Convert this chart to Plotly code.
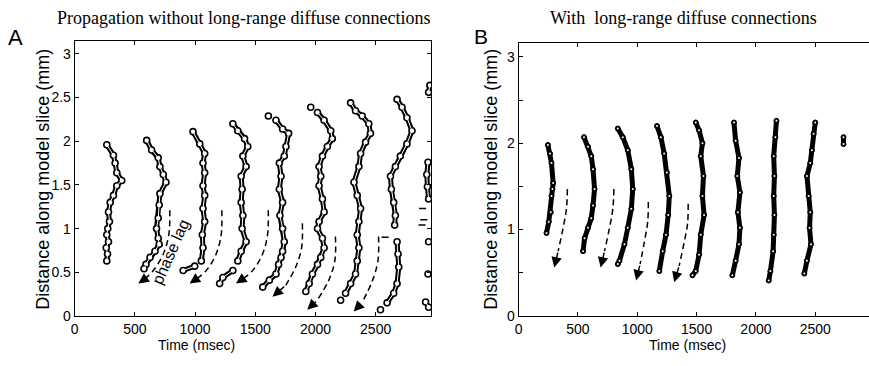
import plotly.graph_objects as go

# ---------------- data ----------------
# Panel A: wave fronts, time (msec) and distance (mm); None = gap
A_TIME = [
    [267, 322, 336, 350, 391, 350, 322, 295, 281, 289, 275, 267, 281, 262, 273, 267],
    [598, 639, 694, 708, 736, 758, 708, 702, 694, 680, 694, 702, 667, 626, 592, 576],
    [983, 1039, 1080, 1066, 1080, 1066, 1080, 1066, 1080, 1060, 1066, 1052, None, 997, 901],
    [1314, 1355, 1411, 1438, 1397, 1424, 1383, 1391, 1383, 1397, 1391, 1424, 1383, 1355, None, 1314, 1231, 1204],
    [1609, None, 1672, 1727, 1777, 1755, 1741, 1700, 1714, 1700, 1727, 1705, 1727, 1741, 1727, 1714, 1694, 1672, 1617, 1562],
    [1961, None, 2017, 2072, 2127, 2140, 2099, 2058, 2030, 2044, 2030, 2058, 2072, 2030, 2017, 2058, 2072, 2044, 2017, 1975, 1948, 1920],
    [2292, 2333, 2388, 2443, 2457, 2416, 2375, 2361, 2320, 2347, 2375, 2361, 2347, 2361, 2347, 2333, 2292, 2250, None, 2209],
    [2678, 2719, 2760, 2802, 2760, 2705, 2664, 2623, 2631, 2650, 2664, 2658, None, 2678, 2686, 2692, 2678, 2650, 2595, None, 2540],
    [2950, 2940, None, 2935, 2925, 2930, 2940, None, 2940, None, 2935, None, 2915, 2940],
]
A_DIST = [
    [1.96, 1.84, 1.75, 1.64, 1.55, 1.49, 1.38, 1.30, 1.19, 1.08, 1.00, 0.93, 0.85, 0.78, 0.71, 0.63],
    [2.01, 1.90, 1.81, 1.71, 1.62, 1.53, 1.40, 1.27, 1.12, 1.00, 0.89, 0.82, 0.74, 0.67, 0.59, 0.54],
    [2.11, 1.97, 1.86, 1.75, 1.64, 1.49, 1.38, 1.23, 1.08, 0.93, 0.78, 0.63, None, 0.57, 0.52],
    [2.20, 2.12, 2.03, 1.94, 1.83, 1.71, 1.60, 1.45, 1.30, 1.15, 1.00, 0.85, 0.74, 0.63, None, 0.52, 0.44, 0.37],
    [2.29, None, 2.24, 2.14, 2.09, 1.94, 1.83, 1.75, 1.60, 1.45, 1.30, 1.15, 1.00, 0.85, 0.74, 0.67, 0.59, 0.48, 0.41, 0.33],
    [2.39, None, 2.33, 2.24, 2.12, 2.03, 1.94, 1.83, 1.71, 1.60, 1.49, 1.34, 1.19, 1.08, 1.00, 0.89, 0.78, 0.67, 0.59, 0.48, 0.37, 0.28],
    [2.44, 2.35, 2.29, 2.20, 2.09, 1.99, 1.86, 1.71, 1.53, 1.38, 1.23, 1.08, 0.93, 0.78, 0.63, 0.48, 0.37, 0.26, None, 0.18],
    [2.48, 2.39, 2.27, 2.12, 1.97, 1.83, 1.71, 1.60, 1.45, 1.30, 1.15, 1.04, None, 0.85, 0.71, 0.56, 0.37, 0.26, 0.15, None, 0.07],
    [2.64, 2.56, None, 1.76, 1.62, 1.48, 1.34, None, 0.85, None, 0.48, None, 0.16, 0.10],
]
A_SPECK_T = [2579, 2890, 2900, 2885]
A_SPECK_D = [0.90, 1.23, 1.10, 1.04]

# Panel A: dashed "phase lag" arrows (last point = arrow head)
A_ARROW_T = [
    [790, 782, 736, 653, 570, 529],
    [1222, 1217, 1175, 1093, 997, 955],
    [1608, 1602, 1561, 1478, 1382, 1340],
    [1891, 1885, 1836, 1753, 1643],
    [2166, 2161, 2111, 2015, 1932],
    [2524, 2519, 2469, 2386, 2318],
]
A_ARROW_D = [
    [1.21, 0.93, 0.71, 0.52, 0.41, 0.37],
    [1.21, 0.93, 0.71, 0.52, 0.41, 0.37],
    [1.21, 0.93, 0.71, 0.52, 0.41, 0.37],
    [1.06, 0.78, 0.56, 0.35, 0.22],
    [0.91, 0.63, 0.41, 0.18, 0.07],
    [0.91, 0.63, 0.39, 0.15, 0.05],
]

# Panel B: wave fronts
B_TIME = [
    [247, 265, 277, 291, 285, 277, 271, 254, 235],
    [551, 585, 612, 627, 640, 627, 612, 585, 556, 543],
    [836, 878, 920, 950, 962, 950, 920, 892, 850, 836],
    [1166, 1199, 1227, 1250, 1270, 1261, 1242, 1214, 1186],
    [1493, 1521, 1549, 1535, 1558, 1549, 1563, 1535, 1521, 1493, 1465],
    [1815, 1829, 1857, 1843, 1865, 1848, 1865, 1857, 1829, 1801],
    [2173, 2164, 2150, 2156, 2150, 2156, 2150, 2145, 2122, 2108],
    [2500, 2486, 2472, 2458, 2430, 2444, 2458, 2452, 2464, 2430, 2408],
    [2738, 2738],
]
B_DIST = [
    [1.98, 1.88, 1.77, 1.54, 1.47, 1.39, 1.20, 1.09, 0.96],
    [2.07, 1.96, 1.85, 1.70, 1.47, 1.28, 1.13, 1.02, 0.90, 0.75],
    [2.17, 2.07, 1.92, 1.70, 1.47, 1.24, 1.02, 0.83, 0.64, 0.60],
    [2.20, 2.07, 1.88, 1.66, 1.39, 1.17, 0.94, 0.75, 0.52],
    [2.24, 2.15, 2.00, 1.85, 1.62, 1.39, 1.17, 0.94, 0.71, 0.52, 0.47],
    [2.24, 2.03, 1.83, 1.62, 1.43, 1.20, 1.02, 0.83, 0.64, 0.47],
    [2.26, 2.07, 1.85, 1.62, 1.39, 1.17, 0.94, 0.75, 0.52, 0.41],
    [2.24, 2.11, 1.92, 1.77, 1.62, 1.39, 1.20, 1.02, 0.83, 0.64, 0.49],
    [1.99, 2.07],
]
B_ARROW_T = [
    [411, 403, 375, 333, 300],
    [803, 794, 766, 724, 691],
    [1093, 1088, 1060, 1024, 990],
    [1429, 1424, 1395, 1353, 1311],
]
B_ARROW_D = [
    [1.47, 1.24, 1.02, 0.75, 0.56],
    [1.47, 1.24, 1.02, 0.75, 0.56],
    [1.32, 1.09, 0.86, 0.60, 0.41],
    [1.30, 1.07, 0.85, 0.58, 0.39],
]

X_TICKS = [0, 500, 1000, 1500, 2000, 2500]
A_Y_TICKS = [0, 0.5, 1, 1.5, 2, 2.5, 3]
A_Y_LABELS = ["0", "0.5", "1", "1.5", "2", "2.5", "3"]
B_Y_TICKS = [0, 0.5, 1, 1.5, 2, 2.5, 3]
B_Y_LABELS = ["0", "", "1", "", "2", "", "3"]

TITLE_A = "Propagation without long-range diffuse connections"
TITLE_B = "With\u00a0 long-range diffuse connections"
X_TITLE = "Time (msec)"
Y_TITLE = "Distance along model slice (mm)"

# ---------------- figure ----------------
SANS = "Liberation Sans, Arial, sans-serif"
SERIF = "Liberation Serif, Times New Roman, serif"
W, H = 869, 366

fig = go.Figure()

for t, d in zip(A_TIME, A_DIST):
    fig.add_trace(go.Scatter(
        x=t, y=d, mode="lines+markers", xaxis="x", yaxis="y",
        line=dict(color="black", width=5), connectgaps=False,
        marker=dict(symbol="circle", size=6, color="white", line=dict(color="black", width=1.6)),
        showlegend=False, hoverinfo="skip"))
    fig.add_trace(go.Scatter(
        x=t, y=d, mode="lines", xaxis="x", yaxis="y",
        line=dict(color="white", width=1.0), connectgaps=False,
        showlegend=False, hoverinfo="skip"))
fig.add_trace(go.Scatter(
    x=A_SPECK_T, y=A_SPECK_D, mode="markers", xaxis="x", yaxis="y",
    marker=dict(symbol="line-ew", size=5, line=dict(color="black", width=1.5)),
    showlegend=False, hoverinfo="skip"))

for t, d in zip(B_TIME, B_DIST):
    fig.add_trace(go.Scatter(
        x=t, y=d, mode="lines+markers", xaxis="x2", yaxis="y2",
        line=dict(color="black", width=5), connectgaps=False,
        marker=dict(symbol="circle", size=5, color="black", line=dict(color="black", width=1)),
        showlegend=False, hoverinfo="skip"))
    fig.add_trace(go.Scatter(
        x=t, y=d, mode="markers", xaxis="x2", yaxis="y2",
        marker=dict(symbol="circle", size=2, color="white", line=dict(width=0)),
        showlegend=False, hoverinfo="skip"))

annotations = []


def add_arrows(ts, ds, xa, ya):
    for t, d in zip(ts, ds):
        fig.add_trace(go.Scatter(
            x=t[:-1], y=d[:-1], mode="lines", xaxis=xa, yaxis=ya,
            line=dict(color="black", width=1.5, dash="6px,4px", shape="spline"),
            showlegend=False, hoverinfo="skip"))
        annotations.append(dict(
            x=t[-1], y=d[-1], ax=t[-2], ay=d[-2], xref=xa, yref=ya,
            axref=xa, ayref=ya, text="", showarrow=True, arrowhead=2,
            arrowsize=1.4, arrowwidth=1.5, arrowcolor="black", standoff=0))


add_arrows(A_ARROW_T, A_ARROW_D, "x", "y")
add_arrows(B_ARROW_T, B_ARROW_D, "x2", "y2")


def text_px(x, y, text, size, family=SANS, angle=0):
    # position given in page pixels -> paper coordinates
    return dict(x=x / W, y=1 - y / H, xref="paper", yref="paper", xanchor="center",
                yanchor="middle", text=text, showarrow=False, textangle=angle,
                font=dict(family=family, size=size, color="black"))


annotations += [
    text_px(241, 18, TITLE_A, 18, SERIF),
    text_px(683, 18, TITLE_B, 18, SERIF),
    text_px(12, 38, "A", 22),
    text_px(479, 37, "B", 21),
    text_px(39, 183, Y_TITLE, 18, angle=-90),
    text_px(489, 183, Y_TITLE, 18, angle=-90),
    text_px(193, 353, X_TITLE, 14),
    text_px(687, 353, X_TITLE, 14),
    dict(x=793, y=0.73, xref="x", yref="y", text="phase lag", textangle=-66,
         showarrow=False, font=dict(family=SANS, size=16, color="black")),
]

axis_common = dict(showgrid=False, zeroline=False, showline=True, linecolor="black", linewidth=1,
                   ticks="inside", ticklen=4, tickcolor="black", tickwidth=1,
                   tickfont=dict(family=SANS, size=14, color="black"))

fig.update_layout(
    width=W, height=H, margin=dict(l=0, r=0, t=0, b=0), autosize=False,
    paper_bgcolor="white", plot_bgcolor="white", showlegend=False,
    xaxis=dict(domain=[71 / W, 429 / W], range=[0, 2960], anchor="y", tickvals=X_TICKS,
               mirror="ticks", **axis_common),
    yaxis=dict(domain=[1 - 323 / H, 1 - 42 / H], range=[0, 3.147], anchor="x",
               tickvals=A_Y_TICKS, ticktext=A_Y_LABELS, mirror="ticks", **axis_common),
    xaxis2=dict(domain=[517 / W, 1.0], range=[0, 2953], anchor="y2", tickvals=X_TICKS,
                mirror="ticks", **axis_common),
    yaxis2=dict(domain=[1 - 323 / H, 1 - 44 / H], range=[0, 3.16], anchor="x2",
                tickvals=B_Y_TICKS, ticktext=B_Y_LABELS, mirror=False, **axis_common),
    annotations=annotations,
)

fig.write_html("out.html", config={"displayModeBar": False},
               post_script="document.body.style.margin='0';document.body.style.overflow='hidden';")
